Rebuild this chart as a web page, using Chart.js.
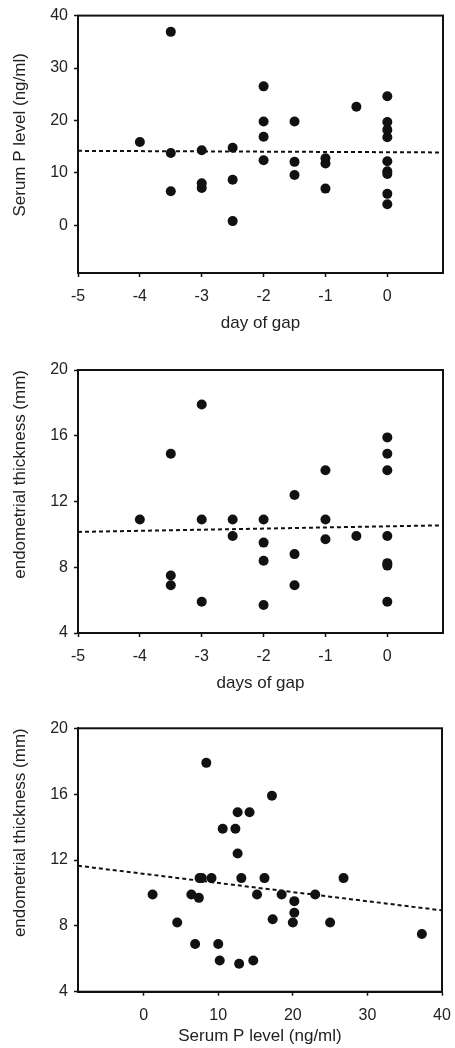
<!DOCTYPE html>
<html>
<head>
<meta charset="utf-8">
<script src="https://cdn.jsdelivr.net/npm/chart.js@4.4.0/dist/chart.umd.min.js"></script>
<style>
  html, body { margin: 0; padding: 0; background: #fff; overflow: hidden; }
  canvas { position: absolute; left: 0; }
</style>
</head>
<body>
<canvas id="c1" width="455" height="335" style="top:0px"></canvas>
<canvas id="c2" width="455" height="355" style="top:340px"></canvas>
<canvas id="c3" width="455" height="350" style="top:698px"></canvas>
<script>
// panel 1: day of gap vs serum P
const gapDays1 = [-4, -3.5, -3.5, -3.5, -3, -3, -3, -2.5, -2.5, -2.5, -2, -2, -2, -2, -1.5, -1.5, -1.5, -1, -1, -1, -0.5, 0, 0, 0, 0, 0, 0, 0, 0, 0]
const serumP1 = [15.9, 36.9, 13.8, 6.5, 14.3, 8.0, 7.1, 14.8, 8.7, 0.8, 26.5, 19.8, 16.9, 12.4, 19.8, 12.1, 9.6, 12.8, 11.8, 7.0, 22.6, 24.6, 19.7, 18.2, 16.8, 12.2, 10.3, 9.8, 6.0, 4.0]
const fitX1 = [-5, 0.9]
const fitY1 = [14.2, 13.9]

// panel 2: days of gap vs endometrial thickness
const gapDays2 = [-4, -3.5, -3.5, -3.5, -3, -3, -3, -2.5, -2.5, -2, -2, -2, -2, -1.5, -1.5, -1.5, -1, -1, -1, -0.5, 0, 0, 0, 0, 0, 0, 0]
const thick2 = [10.9, 14.9, 7.5, 6.9, 17.9, 10.9, 5.9, 10.9, 9.9, 10.9, 9.5, 8.4, 5.7, 12.4, 8.8, 6.9, 13.9, 10.9, 9.7, 9.9, 15.9, 14.9, 13.9, 9.9, 8.25, 8.1, 5.9]
const fitX2 = [-5, 0.9]
const fitY2 = [10.15, 10.55]

// panel 3: serum P vs endometrial thickness
const serumP3 = [1.2, 4.5, 6.4, 6.9, 7.4, 7.5, 7.8, 8.4, 9.1, 10.0, 10.2, 10.6, 12.3, 12.6, 12.6, 13.1, 12.8, 14.2, 14.7, 15.2, 16.2, 17.2, 17.3, 18.5, 20.0, 20.2, 20.2, 23.0, 25.0, 26.8, 37.3]
const thick3 = [9.9, 8.2, 9.9, 6.9, 9.7, 10.9, 10.9, 17.9, 10.9, 6.9, 5.9, 13.9, 13.9, 14.9, 12.4, 10.9, 5.7, 14.9, 5.9, 9.9, 10.9, 15.9, 8.4, 9.9, 8.2, 9.5, 8.8, 9.9, 8.2, 10.9, 7.5]
const fitX3 = [-8.8, 40]
const fitY3 = [11.65, 8.94]

const gapTicks = [-5, -4, -3, -2, -1, 0]
const pTicksY = [0, 10, 20, 30, 40]
const thickTicks = [4, 8, 12, 16, 20]
const pTicksX = [0, 10, 20, 30, 40]

const ink = '#111'
const fontFamily = "'Liberation Sans', Arial, sans-serif"

const frame = {
    id: 'frame',
    afterDatasetsDraw(chart) {
        const { ctx, chartArea: a } = chart
        ctx.save()
        ctx.strokeStyle = ink
        ctx.lineWidth = 2
        ctx.strokeRect(a.left, a.top, a.right - a.left, a.bottom - a.top)
        ctx.restore()
    }
}

function axis(min, max, tickVals, title, isY, align, height) {
    return {
        type: 'linear',
        min: min,
        max: max,
        afterBuildTicks: (s) => { s.ticks = tickVals.map(v => ({ value: v })) },
        afterFit: (s) => {
            if (isY) {
                s.width = 78
            } else {
                s.height = height
                // let the last label run past the edge like the original
                s.paddingLeft = 0
                s.paddingRight = 0
            }
        },
        grid: {
            display: true,
            drawOnChartArea: false,
            drawTicks: true,
            tickLength: 4,
            tickWidth: 1.5,
            tickColor: ink,
        },
        border: {
            display: true,
            color: ink,
            width: 2,
        },
        ticks: {
            color: '#222',
            padding: isY ? 6 : 10,
            font: { family: fontFamily, size: 16 },
        },
        title: {
            display: true,
            text: title,
            align: align,
            color: '#222',
            padding: isY ? 10 : 1,
            font: { family: fontFamily, size: 17 },
        },
    }
}

function panel(id, xs, ys, fx, fy, xAxis, yAxis, pad) {
    return new Chart(document.getElementById(id), {
        type: 'scatter',
        data: {
            datasets: [{
                data: xs.map((x, i) => ({ x: x, y: ys[i] })),
                backgroundColor: ink,
                borderWidth: 0,
                pointRadius: 5,
            }, {
                data: fx.map((x, i) => ({ x: x, y: fy[i] })),
                showLine: true,
                borderColor: ink,
                borderWidth: 2,
                borderDash: [4, 3],
                pointRadius: 0,
            }]
        },
        options: {
            responsive: false,
            animation: false,
            layout: { padding: pad },
            plugins: { legend: { display: false }, tooltip: { enabled: false } },
            scales: { x: xAxis, y: yAxis },
        },
        plugins: [frame],
    })
}

panel('c1', gapDays1, serumP1, fitX1, fitY1,
    axis(-5, 0.9, gapTicks, 'day of gap', false, 'center', 62),
    axis(-9.1, 40, pTicksY, '    Serum P level (ng/ml)', true, 'center'),
    { left: 0, right: 12, top: 10, bottom: 0 })

panel('c2', gapDays2, thick2, fitX2, fitY2,
    axis(-5, 0.9, gapTicks, 'days of gap', false, 'center', 62),
    axis(4, 20, thickTicks, 'endometrial thickness (mm)', true, 'end'),
    { left: 0, right: 12, top: 30, bottom: 0 })

panel('c3', serumP3, thick3, fitX3, fitY3,
    axis(-8.8, 40, pTicksX, 'Serum P level (ng/ml)', false, 'center', 56.3),
    axis(4, 20, thickTicks, 'endometrial thickness (mm)', true, 'end'),
    { left: 0, right: 13, top: 30.3, bottom: 0 })
</script>
</body>
</html>
